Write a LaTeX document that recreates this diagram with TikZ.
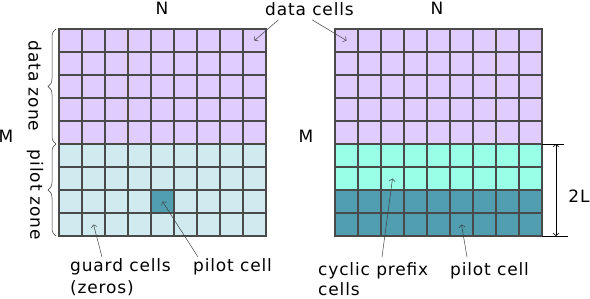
\documentclass[tikz,border=0pt]{standalone}
\usepackage{fontspec}
\setmainfont{DejaVu Sans}[LetterSpace=5]
\usepackage{tikz}
\usetikzlibrary{arrows.meta,positioning,calc,decorations.pathreplacing}
\definecolor{datalilac}{HTML}{E0CCFF}
\definecolor{guardcyan}{HTML}{D0EBF0}
\definecolor{prefixaqua}{HTML}{99FFE6}
\definecolor{pilotteal}{HTML}{509EB0}
\definecolor{gridgray}{HTML}{4A4A4A}

\begin{document}
\begin{tikzpicture}[x=1pt,y=-1pt,
  cell/.style={draw=gridgray,line width=1.2pt,minimum size=23pt,
               inner sep=0pt,outer sep=0pt},
  lab/.style={inner sep=0pt,align=left},
  ptr/.style={draw=black!75,line width=0.5pt,
              -{Straight Barb[length=2.5pt,width=6pt]}},
  dimline/.style={draw=black,line width=0.6pt,
                  {Straight Barb[length=2.5pt,width=6pt]}-{Straight Barb[length=2.5pt,width=6pt]}},
  zonebrace/.style={draw=black!80,line width=0.5pt,decorate,
                    decoration={brace,amplitude=8pt}},
  font=\fontsize{17}{22}\selectfont
]
  \useasboundingbox (0,0) rectangle (590,298);

  % left frame: data zone over pilot zone
  \foreach \r in {0,...,8}
    \foreach \c in {0,...,8}{
      \def\cellfill{guardcyan}
      \ifnum\r<5 \def\cellfill{datalilac}\fi
      \ifnum\r\c=74 \def\cellfill{pilotteal}\fi
      \node[cell,fill=\cellfill] (l-\r-\c) at (70.5+23*\c,40.5+23*\r) {};
    }

  % right frame: data, cyclic prefix, pilot rows
  \foreach \r in {0,...,8}
    \foreach \c in {0,...,8}{
      \ifnum\r<5 \def\cellfill{datalilac}\else
        \ifnum\r<7 \def\cellfill{prefixaqua}\else \def\cellfill{pilotteal}\fi\fi
      \node[cell,fill=\cellfill] (r-\r-\c) at (346.5+23*\c,40.5+23*\r) {};
    }

  \node[lab] (nl) at (162,8.5) {N};
  \node[lab] (nr) at (437,8.5) {N};
  \node[lab] (ml) at (6,136) {M};
  \node[lab] (mr) at (306,136) {M};

  \draw[zonebrace] ([xshift=-3pt]l-4-0.south west) -- ([xshift=-3pt]l-0-0.north west);
  \draw[zonebrace] ([xshift=-3pt]l-8-0.south west) -- ([xshift=-3pt]l-5-0.north west);
  \node[lab,rotate=-90] (dz) at (35,86) {data zone};
  \node[lab,rotate=-90] (pz) at (35,195) {pilot zone};

  \node[lab] (dc) at (309.5,9) {data cells};
  \draw[ptr] ([xshift=-31pt,yshift=-4pt]dc.south) -- (l-0-8.center);
  \draw[ptr] ([xshift=2.5pt,yshift=-4pt]dc.south) -- (r-0-0.center);

  \node[lab,anchor=north west] (gc) at (70,258) {guard cells\\(zeros)};
  \node[lab,anchor=north west] (pl) at (193,258) {pilot cell};
  \draw[ptr] ([xshift=32pt,yshift=1pt]gc.north west) -- (l-8-1.center);
  \draw[ptr] ([xshift=5pt,yshift=1pt]pl.north west) -- (l-7-4.center);

  \node[lab,anchor=north west,font=\fontsize{17}{20}\selectfont] (cp) at (318,262) {cyclic prefix\\cells};
  \node[lab,anchor=north west] (pr) at (450,262) {pilot cell};
  \draw[ptr] ([xshift=64pt,yshift=5pt]cp.north west) -- (r-6-2.center);
  \draw[ptr] ([xshift=17pt,yshift=5pt]pr.north west) -- (r-8-5.center);

  % height of the cyclic prefix and pilot rows
  \draw[line width=0.6pt] (r-5-8.north east) -- ++(22,0);
  \draw[line width=0.6pt] (r-8-8.south east) -- ++(26,0);
  \coordinate (dtop) at ([xshift=14pt]r-5-8.north east);
  \coordinate (dbot) at ([xshift=14pt]r-8-8.south east);
  \draw[dimline] (dtop) -- (dbot);
  \node[lab] (twol) at (579,196) {2L};
\end{tikzpicture}
\end{document}
